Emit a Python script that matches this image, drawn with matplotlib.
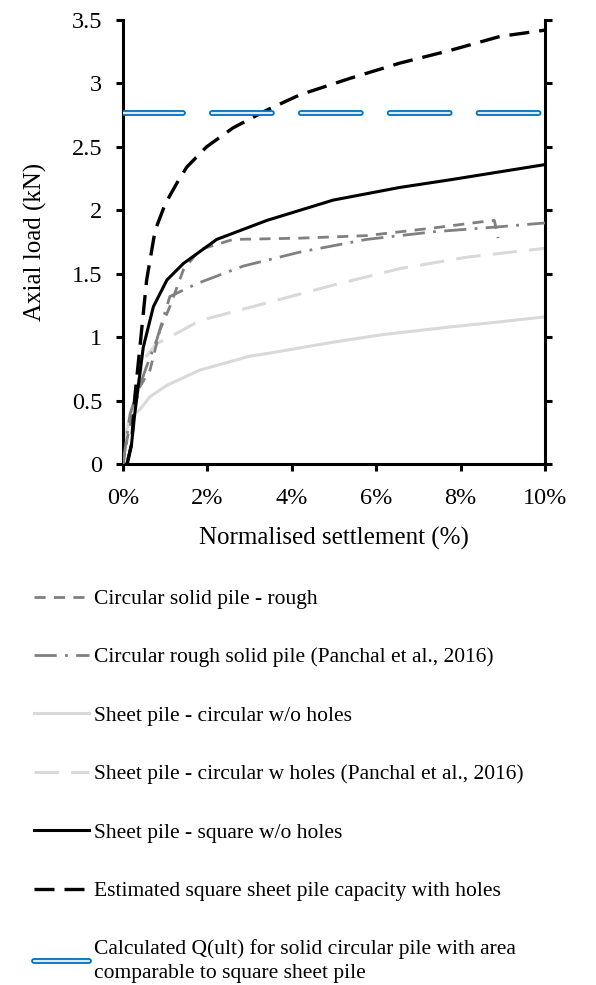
import numpy as np
import matplotlib
matplotlib.use("Agg")
import matplotlib.pyplot as plt
import matplotlib.patheffects as pe
from matplotlib.ticker import FuncFormatter

plt.rcParams['font.family'] = 'Liberation Serif'

# settlement (%) / axial load (kN)
rough_x = [0.0, 0.1, 0.25, 0.4, 0.64, 0.88, 1.11, 1.43, 1.82, 2.61, 4.19, 5.77, 7.35, 8.53, 8.8, 8.89]
rough_y = [0.0, 0.2, 0.42, 0.61, 0.74, 1.06, 1.24, 1.53, 1.69, 1.77, 1.78, 1.80, 1.86, 1.91, 1.92, 1.78]

panchal_x = [0.0, 0.17, 0.56, 0.80, 1.11, 1.74, 2.85, 4.19, 5.77, 7.35, 8.93, 10.0]
panchal_y = [0.0, 0.40, 0.77, 0.98, 1.32, 1.42, 1.56, 1.67, 1.77, 1.83, 1.87, 1.90]

circ_x = [0.0, 0.05, 0.15, 0.40, 0.64, 1.04, 1.82, 3.01, 3.41, 4.98, 6.16, 7.75, 8.93, 10.0]
circ_y = [0.0, 0.2, 0.36, 0.43, 0.53, 0.62, 0.74, 0.85, 0.87, 0.96, 1.02, 1.08, 1.12, 1.16]

holes_x = [0.0, 0.1, 0.3, 0.48, 0.80, 1.11, 1.82, 3.41, 4.98, 6.56, 8.14, 10.0]
holes_y = [0.0, 0.25, 0.55, 0.82, 0.95, 1.00, 1.13, 1.27, 1.41, 1.54, 1.63, 1.70]

square_x = [0.09, 0.2, 0.28, 0.48, 0.72, 1.04, 1.43, 2.22, 3.41, 4.98, 6.56, 7.75, 10.0]
square_y = [0.0, 0.15, 0.40, 0.92, 1.24, 1.45, 1.58, 1.77, 1.92, 2.08, 2.18, 2.24, 2.36]

est_x = [0.1, 0.2, 0.28, 0.40, 0.56, 0.76, 1.0, 1.27, 1.51, 1.98, 2.61, 3.41, 4.19, 5.38, 6.56, 7.75, 8.93, 10.0]
est_y = [0.0, 0.15, 0.53, 0.92, 1.45, 1.84, 2.05, 2.21, 2.34, 2.50, 2.65, 2.79, 2.91, 3.04, 3.16, 3.26, 3.37, 3.42]

qult = 2.77

labels = ['Circular solid pile - rough',
          'Circular rough solid pile (Panchal et al., 2016)',
          'Sheet pile - circular w/o holes',
          'Sheet pile - circular w holes (Panchal et al., 2016)',
          'Sheet pile - square w/o holes',
          'Estimated square sheet pile capacity with holes',
          'Calculated Q(ult) for solid circular pile with area\ncomparable to square sheet pile']

fig = plt.figure(figsize=(5.96, 9.85), dpi=100)
ax = fig.add_axes([0.2064, 0.529, 0.708, 0.4507])

ax.plot(circ_x, circ_y, color='#D9D9D9', lw=2.2, label=labels[2], zorder=2)
ax.plot(holes_x, holes_y, color='#D9D9D9', lw=2.2, dashes=(8, 4), label=labels[3], zorder=2)
ax.plot(rough_x, rough_y, color='#808080', lw=2.0, dashes=(4, 3), label=labels[0], zorder=3)
ax.plot(panchal_x, panchal_y, color='#808080', lw=2.0, dashes=(8, 3, 1, 3), label=labels[1], zorder=3)
ax.plot(square_x, square_y, color='black', lw=2.2, label=labels[4], zorder=4)
ax.plot(est_x, est_y, color='black', lw=2.4, dashes=(6, 3), label=labels[5], zorder=4)
blue, = ax.plot([0, 10], [qult, qult], color='#DDEBF7', lw=1.6, dashes=(27, 13),
                dash_capstyle='round', label=labels[6], zorder=5,
                path_effects=[pe.Stroke(linewidth=4.2, foreground='#0070C0'), pe.Normal()])

ax.set_xlim(0, 10)
ax.set_ylim(0, 3.5)
ax.set_xticks(np.arange(0, 11, 2))
ax.set_yticks(np.arange(0, 3.51, 0.5))
ax.xaxis.set_major_formatter(FuncFormatter(lambda v, p: '%d%%' % v))
ax.yaxis.set_major_formatter(FuncFormatter(lambda v, p: '%g' % v))
ax.spines['top'].set_visible(False)
for s in ['left', 'right', 'bottom']:
    ax.spines[s].set_linewidth(2.2)
ax.tick_params(direction='out', length=5, width=2.2, labelsize=17.5, right=True)
ax.tick_params(axis='x', pad=12)
ax.tick_params(axis='y', pad=10)
ax.set_xlabel('Normalised settlement (%)', fontsize=18, labelpad=13)
ax.set_ylabel('Axial load (kN)', fontsize=18, labelpad=18)

order = [2, 3, 0, 1, 4, 5, 6]
h, l = ax.get_legend_handles_labels()
h = [h[order.index(i)] for i in range(7)]
l = [l[order.index(i)] for i in range(7)]
leg = fig.legend(h, l, loc='upper left', bbox_to_anchor=(0.057, 0.402), frameon=False,
                 borderpad=0, borderaxespad=0, fontsize=15.5, handlelength=2.55,
                 handletextpad=0.22, labelspacing=1.78)
for t in leg.get_texts():
    t.set_linespacing(1.35)

fig.savefig('out.png', dpi=100)
